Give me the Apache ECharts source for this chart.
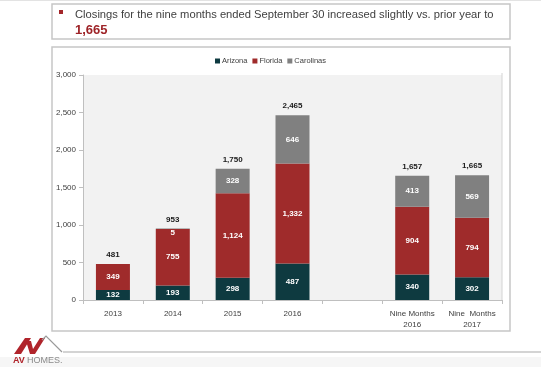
<!DOCTYPE html>
<html>
<head>
<meta charset="utf-8">
<script src="https://cdn.jsdelivr.net/npm/echarts@6/dist/echarts.min.js"></script>
<style>html,body{margin:0;padding:0;background:#fff}#c{width:541px;height:367px}</style>
</head>
<body>
<div id="c"></div>
<script>
var categories = ['2013', '2014', '2015', '2016', '', 'Nine Months\n2016', 'Nine  Months\n2017'];
var arizona = [132, 193, 298, 487, null, 340, 302];
var florida = [349, 755, 1124, 1332, null, 904, 794];
var carolinas = [null, 5, 328, 646, null, 413, 569];
var totals = [481, 953, 1750, 2465, null, 1657, 1665];
var yTicks = [0, 500, 1000, 1500, 2000, 2500, 3000];

var chart = echarts.init(document.getElementById('c'), null, {renderer: 'canvas'});
var FONT = 'Liberation Sans';
var inLabel = {show: true, position: 'inside', color: '#fff', fontSize: 8, fontWeight: 'bold', fontFamily: FONT,
  formatter: function (p) { return p.value == null ? '' : echarts.format.addCommas(p.value); }};

var carData = carolinas.map(function (v, i) {
  if (i === 1) return {value: v, label: {offset: [0, 4]}};
  return v;
});

chart.setOption({
  animation: false,
  textStyle: {fontFamily: FONT},
  legend: {
    data: ['Arizona', 'Florida', 'Carolinas'],
    top: 52, left: 'center', itemWidth: 5, itemHeight: 5, itemGap: 5,
    icon: 'rect',
    textStyle: {fontSize: 7.5, color: '#404040', fontFamily: FONT, padding: [0, 0, 0, -3]}
  },
  grid: {left: 83, right: 39, top: 75, bottom: 67, show: true, backgroundColor: '#f2f2f2', borderWidth: 0},
  xAxis: {
    type: 'category', data: categories,
    axisLine: {lineStyle: {color: '#bfbfbf'}},
    axisTick: {show: true, interval: 0, length: 4, lineStyle: {color: '#bfbfbf'}},
    axisLabel: {interval: 0, color: '#404040', fontSize: 8, margin: 8, lineHeight: 11, fontFamily: FONT}
  },
  yAxis: {
    type: 'value', min: 0, max: 3000, interval: 500,
    axisLine: {show: true, lineStyle: {color: '#bfbfbf'}},
    axisTick: {show: true, length: 4, lineStyle: {color: '#bfbfbf'}},
    splitLine: {show: false},
    axisLabel: {color: '#404040', fontSize: 8, margin: 7, fontFamily: FONT,
      formatter: function (v) { return echarts.format.addCommas(v); }}
  },
  series: [
    {name: 'Arizona', type: 'bar', stack: 's', barWidth: 34, data: arizona, itemStyle: {color: '#0e3a40'}, label: inLabel},
    {name: 'Florida', type: 'bar', stack: 's', barWidth: 34, data: florida, itemStyle: {color: '#9f2b2b'}, label: inLabel},
    {name: 'Carolinas', type: 'bar', stack: 's', barWidth: 34, data: carData, itemStyle: {color: '#808080'}, label: inLabel},
    {name: 'Total', type: 'bar', stack: 's', barWidth: 34,
      data: totals.map(function (t) { return t == null ? null : 0; }),
      itemStyle: {color: 'transparent'},
      label: {show: true, position: 'top', distance: 5, color: '#1a1a1a', fontSize: 8, fontWeight: 'bold', fontFamily: FONT,
        formatter: function (p) { var t = totals[p.dataIndex]; return t == null ? '' : echarts.format.addCommas(t); }}}
  ],
  graphic: [
    {type: 'line', shape: {x1: 0, y1: 0.5, x2: 541, y2: 0.5}, style: {stroke: '#e3e3e3', lineWidth: 1}, silent: true},
    {type: 'rect', shape: {x: 52, y: 4, width: 458, height: 35}, style: {fill: 'none', stroke: '#c6c6c6', lineWidth: 1.5}, silent: true},
    {type: 'rect', shape: {x: 59, y: 10, width: 4, height: 4}, style: {fill: '#a3262a'}, silent: true},
    {type: 'text', x: 75, y: 15, style: {text: 'Closings for the nine months ended September 30 increased slightly vs. prior year to',
      fill: '#404040', font: '11.2px "Liberation Sans"', verticalAlign: 'middle'}, silent: true},
    {type: 'text', x: 75, y: 30, style: {text: '1,665', fill: '#9e2428', font: 'bold 13px "Liberation Sans"', verticalAlign: 'middle'}, silent: true},
    {type: 'rect', shape: {x: 52, y: 47, width: 458, height: 284}, style: {fill: 'none', stroke: '#c6c6c6', lineWidth: 1.5}, silent: true},
    {type: 'line', shape: {x1: 502, y1: 73, x2: 502, y2: 300}, style: {stroke: '#d4d4d4', lineWidth: 1}, silent: true},
    {type: 'rect', shape: {x: 0, y: 357, width: 541, height: 10}, style: {fill: '#f6f6f6'}, silent: true, z: -1},
    {type: 'line', shape: {x1: 63, y1: 352, x2: 541, y2: 352}, style: {stroke: '#c6c6c6', lineWidth: 1.5}, silent: true},
    {type: 'polygon', shape: {points: [[14, 354], [25, 338], [31, 338], [21, 354]]}, style: {fill: '#b0242b'}, silent: true},
    {type: 'polygon', shape: {points: [[26, 341], [31, 341], [33, 349], [40, 338], [45, 338], [35, 354], [30, 354]]}, style: {fill: '#b0242b'}, silent: true},
    {type: 'polyline', shape: {points: [[42, 340], [46, 336], [62, 352]]}, style: {stroke: '#9a9a9a', lineWidth: 1.2, fill: 'none'}, silent: true},
    {type: 'text', x: 13, y: 361, style: {text: 'AV', fill: '#b0242b', font: 'bold 9px "Liberation Sans"', verticalAlign: 'middle'}, silent: true},
    {type: 'text', x: 27, y: 361, style: {text: 'HOMES.', fill: '#8a8a8a', font: '9px "Liberation Sans"', verticalAlign: 'middle'}, silent: true}
  ]
});
</script>
</body>
</html>
